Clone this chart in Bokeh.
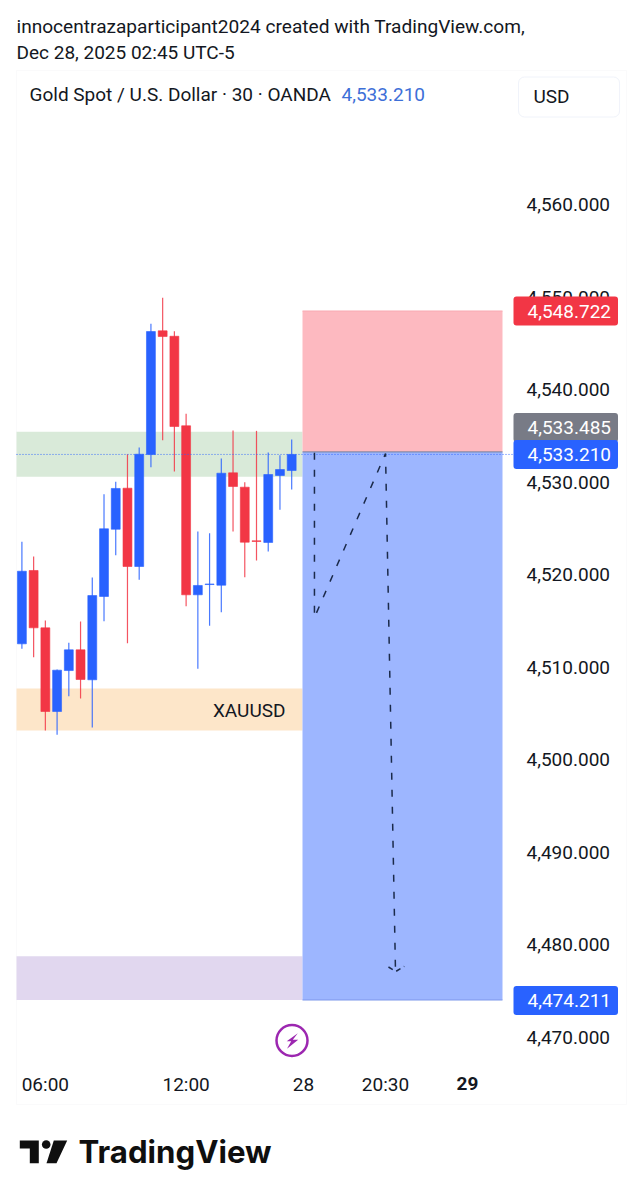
from bokeh.plotting import figure
from bokeh.models import (Range1d, LinearAxis, FixedTicker, NumeralTickFormatter,
                          Label, BoxAnnotation, ColumnDataSource)
from bokeh.core.properties import value
from bokeh.embed import file_html
from bokeh.resources import INLINE

# ---------- data ----------
opens  = [4512.73,4520.66,4514.46,4505.41,4509.84,4512.08,4508.84,4517.85,4525.12,4529.56,4521.09,4533.20,
          4546.58,4545.99,4536.31,4518.03,4519.14,4519.07,4531.22,4529.67,4523.87,4523.69,4530.93,4531.47]
highs  = [4523.76,4522.17,4515.25,4509.95,4512.84,4515.14,4519.90,4528.91,4530.25,4533.23,4533.96,4547.34,
          4550.15,4546.54,4537.60,4524.88,4524.69,4532.77,4535.80,4530.21,4535.76,4533.42,4533.13,4534.82]
lows   = [4512.19,4511.28,4503.36,4502.89,4507.06,4506.82,4503.68,4515.17,4522.31,4512.80,4519.65,4531.83,
          4534.75,4531.36,4516.80,4510.03,4514.68,4516.15,4524.88,4519.93,4521.74,4522.71,4527.22,4529.42]
closes = [4520.58,4514.46,4505.41,4509.88,4512.08,4508.87,4517.95,4525.17,4529.53,4521.09,4533.23,4546.50,
          4545.96,4536.23,4518.03,4519.04,4519.20,4531.18,4529.74,4523.72,4523.80,4531.04,4531.58,4533.21]

price_ticks = [4470,4480,4490,4500,4510,4520,4530,4540,4550,4560]
time_ticks = [2,14,24,31]
time_labels = ["06:00","12:00","28","20:30"]
stop_price, entry_price, target_price = 4548.722, 4533.485, 4474.211
last_price = 4533.210
zones = {"green":(4535.66,4530.79),"orange":(4507.90,4503.36),"purple":(4478.95,4474.21)}
path_x = [24.94,24.94,31.0,31.85]
path_y = [4533.40,4515.57,4533.31,4477.30]
head_x = [31.25,31.88,32.6]
head_y = [4477.78,4477.30,4477.85]

BLUE, RED, INK = "#2962ff", "#f23645", "#131722"
FONT = "Roboto"

# ---------- page-pixel helpers for the chrome ----------
PX_X0, PX_PER_BAR = 21.4, 11.73
PY0, PX_PER_USD = 310.5, 9.247
def bx(px): return (px-PX_X0)/PX_PER_BAR
def by(py): return stop_price-(py-PY0)/PX_PER_USD

p = figure(width=634, height=1192, output_backend="svg", toolbar_location=None,
           x_range=Range1d(bx(0),bx(634)), y_range=Range1d(by(1192),by(0)),
           x_axis_location=None, y_axis_location=None,
           min_border=0, outline_line_color=None)
p.grid.visible = False
p.extra_y_ranges = {"axis": Range1d(4453.26, 4582.04)}

ya = LinearAxis(y_range_name="axis", ticker=FixedTicker(ticks=price_ticks),
                formatter=NumeralTickFormatter(format="0,0.000"), fixed_location=bx(516))
xa = LinearAxis(ticker=FixedTicker(ticks=time_ticks), fixed_location=by(1062),
                major_label_overrides=dict(zip(time_ticks,time_labels)))
for a,so in ((ya,10),(xa,10)):
    a.axis_line_color=None; a.major_tick_line_color=None; a.minor_tick_line_color=None
    a.major_tick_out=0; a.major_tick_in=0
    a.major_label_text_font=FONT; a.major_label_text_font_size="19px"
    a.major_label_text_color=INK; a.major_label_standoff=so
p.add_layout(ya,"right"); p.add_layout(xa,"below")

# chart frame
p.add_layout(BoxAnnotation(left=bx(16),right=bx(626),top=by(70),bottom=by(1104),
                           fill_alpha=0,line_color="#eef0f3",line_width=1,level="underlay"))

# zones
zx0, zx1 = bx(16), bx(302)
for key,col in (("green","#d9ead9"),("orange","#fde6c9"),("purple","#e1d7ef")):
    t,b = zones[key]
    p.quad(left=zx0,right=zx1,top=t,bottom=b,fill_color=col,line_color=None)

# candles
idx = list(range(len(opens)))
cols = [BLUE if c>=o else RED for o,c in zip(opens,closes)]
src = ColumnDataSource(dict(x=idx,o=opens,h=highs,l=lows,c=closes,col=cols,
    top=[max(o,c) for o,c in zip(opens,closes)],bot=[min(o,c) for o,c in zip(opens,closes)]))
p.segment("x","h","x","l",source=src,line_color="col",line_width=1.2,line_alpha=0.85)
p.vbar("x",0.76,"top","bot",source=src,fill_color="col",line_color="col",line_width=0.6)

# position tool
rx0,rx1 = bx(302),bx(502)
p.quad(left=rx0,right=rx1,top=stop_price,bottom=entry_price,fill_color="#fdb9c0",line_color=None)
p.quad(left=rx0,right=rx1,top=entry_price,bottom=target_price,fill_color="#9db6ff",line_color=None)
p.segment(rx0,entry_price,rx1,entry_price,line_color="#6f7f9f",line_width=1)
p.segment(rx0,target_price,rx1,target_price,line_color="#7c97ea",line_width=1)
p.segment(rx0,stop_price,rx1,stop_price,line_color="#f9a9b1",line_width=1)

# last price line
p.segment(bx(16),last_price,bx(514),last_price,line_color=BLUE,line_dash="1 2",line_width=1,line_alpha=0.9)

# hand-drawn arrow
p.line(path_x,path_y,line_color="#1b2a4a",line_width=1.5,line_dash="7 10")
p.line(head_x,head_y,line_color="#1b2a4a",line_width=1.5,line_dash="5 4")

# XAUUSD label
p.text([bx(285)],[by(710)],text=["XAUUSD"],text_font=value(FONT),text_font_size="19px",
       text_color=INK,text_align="right",text_baseline="middle")

# lightning icon
ix,iy = 291.5,1040
p.scatter([bx(ix)],[by(iy)],size=31,marker="circle",fill_color="white",line_color="#9c27b0",line_width=2.5)
bolt_dx = [5.8,-5.3,-0.8,-5.0,6.2,0.8]
bolt_dy = [-7.3,0.7,0.7,8.3,-0.7,-0.7]
p.patch([bx(ix+d) for d in bolt_dx],[by(iy+d) for d in bolt_dy],fill_color="#9c27b0",line_color=None)

def txt(x,y,s,size,color=INK,style="normal",**kw):
    p.add_layout(Label(x=bx(x),y=by(y),text=s,text_font=FONT,text_font_size=size,text_color=color,
              text_font_style=style,text_align="left",text_baseline="middle",**kw))

txt(16,26,"innocentrazaparticipant2024 created with TradingView.com,","19.1px")
txt(16,52,"Dec 28, 2025 02:45 UTC-5","19px")
txt(29,94,"Gold Spot / U.S. Dollar · 30 · OANDA","19px")
txt(341,94,"4,533.210","19px",color="#3d6fd8")
txt(456,1083,"29","19px",style="bold")

# USD box + price tags (padding is left, right, top, bottom)
tag = dict(padding=(14,7,8,8),border_radius=3)
txt(518,96.5,"USD","19px",background_fill_color="white",border_line_color="#f0f3fa",
    padding=(15,50,8,9),border_radius=6)
txt(513,310.5,"4,548.722","19px",color="white",background_fill_color=RED,**tag)
txt(513,427,"4,533.485","19px",color="white",background_fill_color="#787b86",**tag)
txt(513,454,"4,533.210","19px",color="white",background_fill_color=BLUE,**tag)
txt(513,1000,"4,474.211","19px",color="white",background_fill_color=BLUE,**tag)

# footer logo
LOGO = "#0f0f0f"
p.patch([bx(v) for v in (19.3,38.3,38.3,29.3,29.3,19.3)],[by(v) for v in (1140,1140,1162.7,1162.7,1148,1148)],
        fill_color=LOGO,line_color=None)
p.scatter([bx(45.7)],[by(1144)],size=8.6,marker="circle",fill_color=LOGO,line_color=None)
p.patch([bx(v) for v in (53.3,66.7,56,46)],[by(v) for v in (1140,1140,1162.7,1162.7)],fill_color=LOGO,line_color=None)
p.text([bx(78)],[by(1151)],text=["TradingView"],text_font=value("Inter"),text_font_style="bold",
       text_font_size="31.2px",text_color=LOGO,text_align="left",text_baseline="middle")

open("out.html","w").write(file_html(p,INLINE))
